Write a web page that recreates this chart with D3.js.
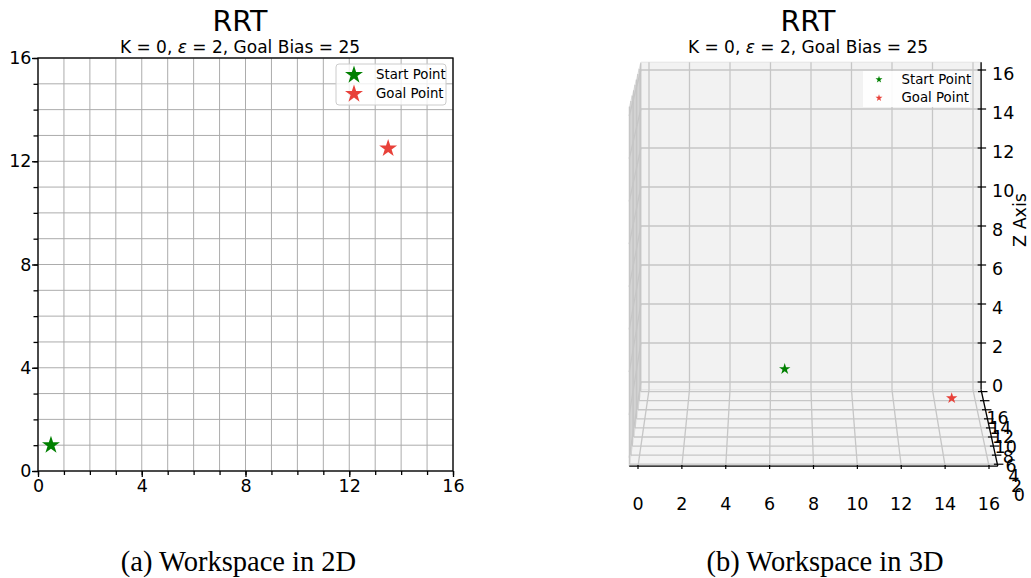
<!DOCTYPE html>
<html>
<head>
<meta charset="utf-8">
<script src="https://cdn.jsdelivr.net/npm/d3@7"></script>
<style>
  body { margin: 0; background: #ffffff; }
  svg { display: block; font-family: "DejaVu Sans", sans-serif; }
</style>
</head>
<body>
<svg id="chart" width="1031" height="578"></svg>
<script>
// ---- data ----
const ticks2D = [0, 4, 8, 12, 16];
const minorTicks2D = [0, 1, 2, 3, 4, 5, 6, 7, 8, 9, 10, 11, 12, 13, 14, 15, 16];
const ticks3D = [0, 2, 4, 6, 8, 10, 12, 14, 16];
const startPoint2D = [0.5, 1];
const goalPoint2D = [13.5, 12.5];
const startPoint3D = [6.7, 14.9, 1];
const goalPoint3D = [14.8, 12.8, 0];
const legendLabels = ["Start Point", "Goal Point"];
const pointColors = ["#008000", "#e8413a"];
const titleText = "RRT";
const captions = ["(a) Workspace in 2D", "(b) Workspace in 3D"];
const zAxisLabel = "Z Axis";

const svg = d3.select("#chart");
const FONT = "DejaVu Sans, sans-serif";

function subtitle(g, cx, y) {
  const t = g.append("text").attr("x", cx).attr("y", y)
    .attr("text-anchor", "middle").attr("font-size", 17).attr("fill", "#000");
  t.append("tspan").text("K = 0, ");
  t.append("tspan").attr("font-style", "italic").text("\u03b5");
  t.append("tspan").text(" = 2, Goal Bias = 25");
}
function title(g, cx) {
  g.append("text").attr("x", cx).attr("y", 31).attr("text-anchor", "middle")
    .attr("font-size", 28.5).attr("fill", "#000").text(titleText);
  subtitle(g, cx, 53);
}

// ================= 2D workspace =================
const x2 = d3.scaleLinear([0, 16], [38, 453]);
const y2 = d3.scaleLinear([0, 16], [471, 58]);
const g2 = svg.append("g");

// unit grid
g2.append("g").selectAll("line").data(minorTicks2D).join("line")
  .attr("x1", d => x2(d)).attr("x2", d => x2(d))
  .attr("y1", y2(0)).attr("y2", y2(16))
  .attr("stroke", "#acacac").attr("stroke-width", 1);
g2.append("g").selectAll("line").data(minorTicks2D).join("line")
  .attr("y1", d => y2(d)).attr("y2", d => y2(d))
  .attr("x1", x2(0)).attr("x2", x2(16))
  .attr("stroke", "#acacac").attr("stroke-width", 1);

function styleAxis(sel) {
  sel.attr("font-family", FONT).attr("font-size", 17.5);
  sel.select(".domain").remove();
  sel.selectAll(".tick line").attr("stroke", "#000").attr("stroke-width", 1.3);
  sel.selectAll(".tick text").attr("fill", "#000");
}
// minor ticks
g2.append("g").attr("transform", `translate(0,${y2(0)})`)
  .call(d3.axisBottom(x2).tickValues(minorTicks2D).tickSize(4).tickFormat(""))
  .call(styleAxis);
g2.append("g").attr("transform", `translate(${x2(0)},0)`)
  .call(d3.axisLeft(y2).tickValues(minorTicks2D).tickSize(4.5).tickFormat(""))
  .call(styleAxis);
// major ticks
g2.append("g").attr("transform", `translate(0,${y2(0)})`)
  .call(d3.axisBottom(x2).tickValues(ticks2D).tickSize(6).tickPadding(3).tickFormat(d3.format("d")))
  .call(styleAxis);
g2.append("g").attr("transform", `translate(${x2(0)},0)`)
  .call(d3.axisLeft(y2).tickValues(ticks2D).tickSize(6).tickPadding(0.5).tickFormat(d3.format("d")))
  .call(styleAxis);

// frame
g2.append("rect").attr("x", x2(0)).attr("y", y2(16))
  .attr("width", x2(16) - x2(0)).attr("height", y2(0) - y2(16))
  .attr("fill", "none").attr("stroke", "#000").attr("stroke-width", 1.3);

const star2D = d3.symbol(d3.symbolStar, 100);
[startPoint2D, goalPoint2D].forEach((p, i) => {
  g2.append("path").attr("d", star2D())
    .attr("transform", `translate(${x2(p[0])},${y2(p[1])})`)
    .attr("fill", pointColors[i]);
});

// legend
const lg2 = g2.append("g");
lg2.append("rect").attr("x", 336).attr("y", 64).attr("width", 110).attr("height", 41)
  .attr("rx", 3).attr("fill", "#fff").attr("fill-opacity", 0.8)
  .attr("stroke", "#cccccc").attr("stroke-width", 1);
legendLabels.forEach((lab, i) => {
  lg2.append("path").attr("d", star2D())
    .attr("transform", `translate(354,${75 + i * 19})`).attr("fill", pointColors[i]);
  lg2.append("text").attr("x", 376).attr("y", 79 + i * 18.7)
    .attr("font-size", 13.3).attr("fill", "#000").text(lab);
});

title(g2, 240);

// ================= 3D workspace =================
const g3 = svg.append("g");
const lo = -0.4, hi = 16.4;
// screen scales on the front (y = lo) and back (y = hi) planes
const xFront = d3.scaleLinear([0, 16], [638, 989]);
const xBack = d3.scaleLinear([0, 16], [649, 973]);
const zFront = d3.scaleLinear([0, 16], [457.5, 116]);
const zBack = d3.scaleLinear([0, 16], [382, 70]);
const depth = d3.scaleLinear([lo, hi], [0, 1]);
function proj(x, y, z) {
  const t = depth(y);
  return [xFront(x) + (xBack(x) - xFront(x)) * t, zFront(z) + (zBack(z) - zFront(z)) * t];
}
const lineGen = d3.line();
function poly(pts) { return lineGen(pts.map(p => proj(...p))) + "Z"; }

// panes
g3.append("path").attr("d", poly([[lo, hi, lo], [hi, hi, lo], [hi, hi, hi], [lo, hi, hi]]))
  .attr("fill", "#f2f2f2").attr("stroke", "#e4e4e4");
g3.append("path").attr("d", poly([[lo, lo, lo], [hi, lo, lo], [hi, hi, lo], [lo, hi, lo]]))
  .attr("fill", "#f3f3f3").attr("stroke", "#e4e4e4");
g3.append("path").attr("d", poly([[lo, lo, lo], [lo, hi, lo], [lo, hi, hi], [lo, lo, hi]]))
  .attr("fill", "#f6f6f6").attr("stroke", "#e4e4e4");

// grid lines on each pane
const gridSegs = [];
ticks3D.forEach(v => {
  gridSegs.push([[v, hi, lo], [v, hi, hi]]);   // back: constant x
  gridSegs.push([[lo, hi, v], [hi, hi, v]]);   // back: constant z
  gridSegs.push([[v, lo, lo], [v, hi, lo]]);   // floor: constant x
  gridSegs.push([[lo, v, lo], [hi, v, lo]]);   // floor: constant y
  gridSegs.push([[lo, v, lo], [lo, v, hi]]);   // side: constant y
  gridSegs.push([[lo, lo, v], [lo, hi, v]]);   // side: constant z
});
g3.append("g").selectAll("path").data(gridSegs).join("path")
  .attr("d", d => lineGen(d.map(p => proj(...p))))
  .attr("stroke", "#c6c6c6").attr("stroke-width", 1.3).attr("fill", "none");

// axis lines
const axisSegs = [
  [[lo, lo, lo], [hi, lo, lo]],
  [[hi, lo, lo], [hi, hi, lo]],
  [[hi, hi, lo], [hi, hi, hi]]
];
g3.append("g").selectAll("path").data(axisSegs).join("path")
  .attr("d", d => lineGen(d.map(p => proj(...p))))
  .attr("stroke", "#000").attr("stroke-width", 1.3).attr("fill", "none");

// x ticks
ticks3D.forEach(v => {
  const p = proj(v, lo, lo);
  g3.append("line").attr("x1", p[0]).attr("x2", p[0]).attr("y1", p[1] - 1).attr("y2", p[1] + 3)
    .attr("stroke", "#000").attr("stroke-width", 1.2);
  g3.append("text").attr("x", p[0]).attr("y", 510).attr("text-anchor", "middle")
    .attr("font-size", 17.5).attr("fill", "#000").text(v);
});
// z ticks
ticks3D.forEach(v => {
  const p = proj(hi, hi, v);
  g3.append("line").attr("x1", p[0] - 3.5).attr("x2", p[0] + 5).attr("y1", p[1]).attr("y2", p[1])
    .attr("stroke", "#000").attr("stroke-width", 1.2);
  g3.append("text").attr("x", p[0] + 11).attr("y", p[1] + 4).attr("dy", "0.35em")
    .attr("font-size", 17.5).attr("fill", "#000").text(v);
});
// y ticks (depth)
ticks3D.forEach(v => {
  const p = proj(hi, v, lo);
  const t = depth(v);
  g3.append("line").attr("x1", p[0] - 3.5).attr("x2", p[0] + 6).attr("y1", p[1]).attr("y2", p[1])
    .attr("stroke", "#000").attr("stroke-width", 1.2);
  g3.append("text").attr("x", p[0] + 22 - 6 * t).attr("y", p[1] + 31 - 5 * t).attr("dy", "0.35em")
    .attr("text-anchor", "middle").attr("font-size", 17.5).attr("fill", "#000").text(v);
});
// z label
g3.append("text").attr("transform", "translate(1021,220) rotate(-90)")
  .attr("text-anchor", "middle").attr("dy", "0.3em")
  .attr("font-size", 17.5).attr("fill", "#000").text(zAxisLabel);

// points
const star3D = d3.symbol(d3.symbolStar, 40);
[startPoint3D, goalPoint3D].forEach((p, i) => {
  const s = proj(...p);
  g3.append("path").attr("d", star3D()).attr("transform", `translate(${s[0]},${s[1]})`)
    .attr("fill", pointColors[i]);
});

// legend
const lg3 = g3.append("g");
lg3.append("rect").attr("x", 863).attr("y", 71).attr("width", 107).attr("height", 36)
  .attr("fill", "#fff").attr("fill-opacity", 0.9);
const starLeg3 = d3.symbol(d3.symbolStar, 15);
legendLabels.forEach((lab, i) => {
  lg3.append("path").attr("d", starLeg3()).attr("transform", `translate(879,${79.5 + i * 18.5})`)
    .attr("fill", pointColors[i]);
  lg3.append("text").attr("x", 901.5).attr("y", 84 + i * 18.3)
    .attr("font-size", 13.3).attr("fill", "#000").text(lab);
});

title(g3, 808);

// ================= captions =================
const capX = [238.5, 825];
captions.forEach((c, i) => {
  svg.append("text").attr("x", capX[i]).attr("y", 571).attr("text-anchor", "middle")
    .attr("font-family", "Liberation Serif, serif").attr("font-size", 28.5)
    .attr("fill", "#000").text(c);
});
</script>
</body>
</html>
